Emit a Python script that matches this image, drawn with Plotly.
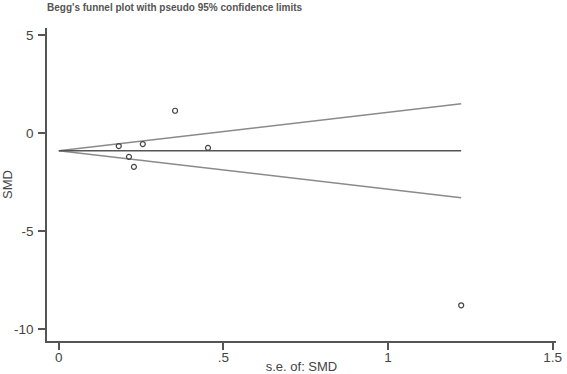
import plotly.graph_objects as go

# Study data: standard error and SMD
se = [0.182, 0.255, 0.353, 0.453, 0.213, 0.228, 1.222]
smd = [-0.66, -0.56, 1.14, -0.75, -1.21, -1.72, -8.78]

# Pooled estimate and pseudo 95% confidence limit endpoints
line_se = [0, 1.222]
pooled = [-0.90, -0.90]
upper = [-0.90, 1.495]
lower = [-0.90, -3.295]

x_ticks = [0, 0.5, 1, 1.5]
x_ticklabels = ["0", ".5", "1", "1.5"]
y_ticks = [-10, -5, 0, 5]
y_ticklabels = ["-10", "-5", "0", "5"]

fig = go.Figure()
fig.add_trace(go.Scatter(x=line_se, y=upper, mode="lines",
                         line=dict(color="#8a8a8a", width=1.4), showlegend=False))
fig.add_trace(go.Scatter(x=line_se, y=lower, mode="lines",
                         line=dict(color="#8a8a8a", width=1.4), showlegend=False))
fig.add_trace(go.Scatter(x=line_se, y=pooled, mode="lines",
                         line=dict(color="#555555", width=1.6), showlegend=False))
fig.add_trace(go.Scatter(x=se, y=smd, mode="markers",
                         marker=dict(symbol="circle-open", size=5,
                                     color="#444444", line=dict(width=1.2)),
                         showlegend=False))

fig.update_layout(
    width=567, height=374,
    margin=dict(l=47, r=11, t=28, b=33, autoexpand=False),
    paper_bgcolor="white", plot_bgcolor="white",
    font=dict(family="Liberation Sans, Arial, sans-serif", color="#444444", size=13.5),
    title=dict(text="<b>Begg's funnel plot with pseudo 95% confidence limits</b>",
               x=0, xref="paper", xanchor="left", y=0.99, yanchor="top",
               font=dict(size=10, color="#555555")),
    xaxis=dict(range=[-0.036, 1.51], tickvals=x_ticks, ticktext=x_ticklabels,
               showline=True, linecolor="#555555", linewidth=1.5,
               ticks="outside", ticklen=7, tickcolor="#555555", tickwidth=1.5,
               ticklabelstandoff=-4,
               showgrid=False, zeroline=False, automargin=False,
               title=dict(text="s.e. of: SMD", standoff=0,
                          font=dict(size=13, color="#444444"))),
    yaxis=dict(range=[-10.6, 5.36], tickvals=y_ticks, ticktext=y_ticklabels,
               showline=True, linecolor="#555555", linewidth=1.5,
               ticks="outside", ticklen=7, tickcolor="#555555", tickwidth=1.5,
               ticklabelstandoff=2,
               showgrid=False, zeroline=False, automargin=False,
               title=dict(text="SMD", standoff=4,
                          font=dict(size=13, color="#444444"))),
)

fig.write_html("out.html", config={"displayModeBar": False},
               post_script="document.body.style.margin='0px';")
